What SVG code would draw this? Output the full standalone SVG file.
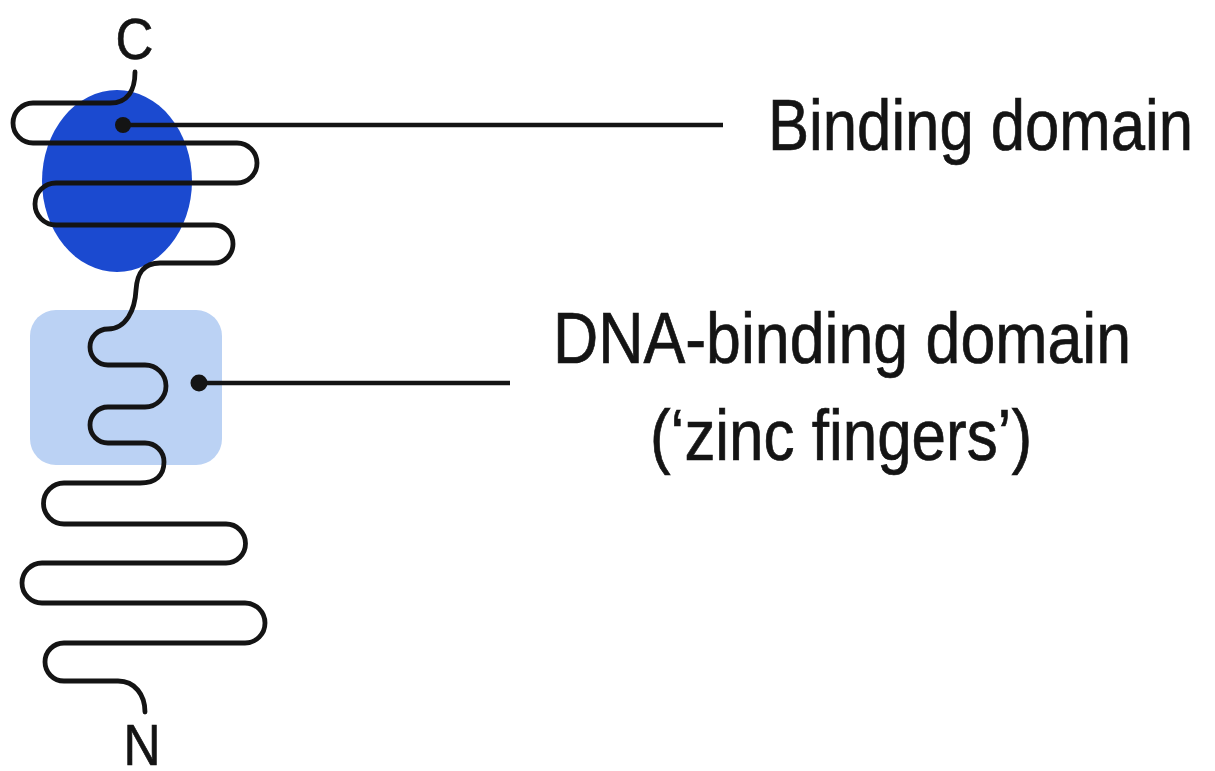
<svg xmlns="http://www.w3.org/2000/svg" width="1215" height="771" viewBox="0 0 1215 771">
  <style>
    .label { font-family: "Liberation Sans", Arial, sans-serif; fill: #141414; stroke: #141414; stroke-width: 0.7; }
    .big { font-size: 72px; }
    .term { font-size: 57px; text-anchor: middle; }
    .chain { fill: none; stroke: #141414; stroke-width: 4.8; stroke-linecap: round; stroke-linejoin: round; }
    .leader { stroke: #141414; stroke-width: 4.5; stroke-linecap: butt; }
    .dot { fill: #141414; }
  </style>
  <rect width="1215" height="771" fill="#ffffff"/>

  <!-- ligand-binding domain: blue ellipse -->
  <g id="binding-domain">
    <ellipse cx="117" cy="181" rx="75" ry="91" fill="#1b4ad0"/>
  </g>

  <!-- zinc-finger region: light blue rounded box -->
  <g id="dna-binding-domain">
    <rect x="30" y="310" width="192" height="155" rx="26" ry="26" fill="#bbd2f4"/>
  </g>

  <!-- polypeptide chain from C terminus down to N terminus -->
  <g id="protein-chain">
    <path class="chain" d="M 135 72 C 135 90, 128 103, 110 103 H 33 A 20 20 0 0 0 33 143 H 237 A 20 20 0 0 1 237 183 H 56 A 21 21 0 0 0 56 225 H 214 A 19 19 0 0 1 214 263 H 160 C 142 263, 137 275, 136 290 C 135 310, 126 329, 108 329 A 18 18 0 0 0 108 365 H 145 A 21 21 0 0 1 145 407 H 108 A 18 18 0 0 0 108 443 H 145 A 19 19 0 0 1 164 462 C 164 475, 156 483, 140 483 H 64 A 20.5 20.5 0 0 0 64 524 H 226 A 19.5 19.5 0 0 1 226 563 H 42 A 20 20 0 0 0 42 603 H 245 A 20 20 0 0 1 245 643 H 64 A 19 19 0 0 0 64 681 H 118 C 135 681, 145 695, 145 712"/>
  </g>

  <g id="terminus-c">
    <text class="label term" x="134.5" y="59" transform="translate(134.5 0) scale(0.92 1) translate(-134.5 0)">C</text>
  </g>
  <g id="terminus-n">
    <text class="label term" x="142" y="765" transform="translate(142 0) scale(0.9 1) translate(-142 0)">N</text>
  </g>

  <!-- leader lines from the domains to their labels -->
  <g id="connectors">
    <circle class="dot" cx="123" cy="125" r="8"/>
    <line class="leader" x1="123" y1="125" x2="723" y2="125"/>
    <circle class="dot" cx="199" cy="383" r="8.5"/>
    <line class="leader" x1="199" y1="383" x2="510" y2="383"/>
  </g>

  <g id="label-binding">
    <text class="label big" x="768" y="150" textLength="425" lengthAdjust="spacingAndGlyphs">Binding domain</text>
  </g>
  <g id="label-dna-binding">
    <text class="label big" x="553" y="363" textLength="578" lengthAdjust="spacingAndGlyphs">DNA-binding domain</text>
    <text class="label big" x="650" y="460" textLength="382" lengthAdjust="spacingAndGlyphs">(‘zinc fingers’)</text>
  </g>
</svg>
